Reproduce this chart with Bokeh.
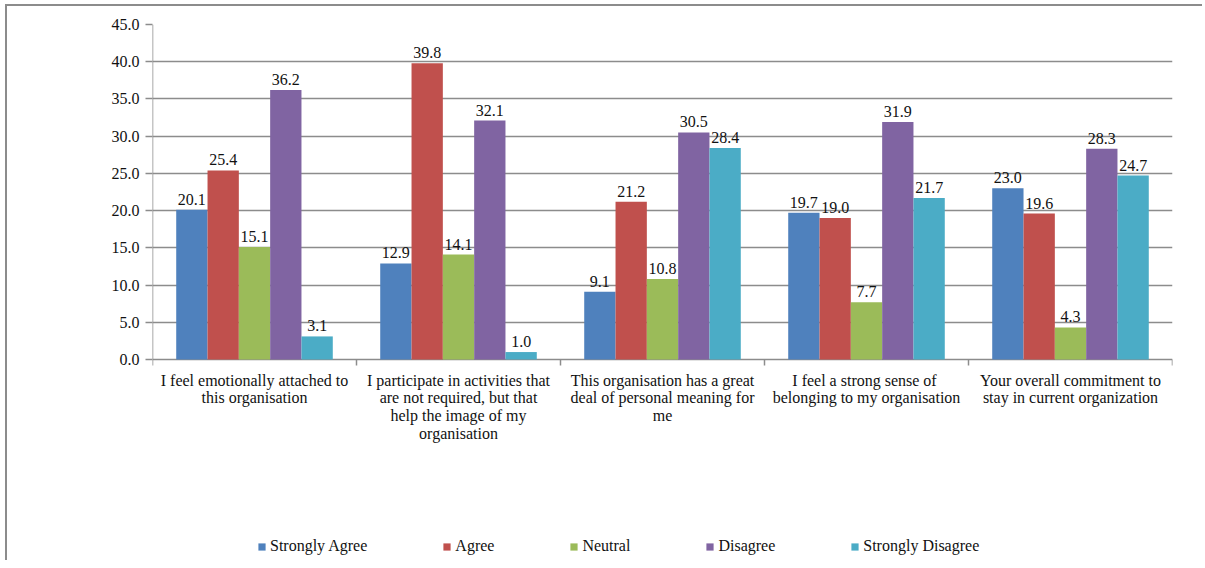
import math
from bokeh.plotting import figure
from bokeh.models import (ColumnDataSource, FixedTicker, Range1d, Legend, LegendItem,
                          NumeralTickFormatter)
from bokeh.transform import dodge
from bokeh.core.properties import value
from bokeh.embed import file_html
from bokeh.resources import INLINE

categories = [
    "I feel emotionally attached to\nthis organisation",
    "I participate in activities that\nare not required, but that\nhelp the image of my\norganisation",
    "This organisation has a great\ndeal of personal meaning for\nme",
    "I  feel a strong sense of\nbelonging to my organisation",
    "Your overall commitment to\nstay in current organization",
]
series = ["Strongly Agree", "Agree", "Neutral", "Disagree", "Strongly Disagree"]
strongly_agree = [20.1, 12.9, 9.1, 19.7, 23.0]
agree = [25.4, 39.8, 21.2, 19.0, 19.6]
neutral = [15.1, 14.1, 10.8, 7.7, 4.3]
disagree = [36.2, 32.1, 30.5, 31.9, 28.3]
strongly_disagree = [3.1, 1.0, 28.4, 21.7, 24.7]
colors = ["#4F81BD", "#C0504D", "#9BBB59", "#8064A2", "#4BACC6"]
y_ticks = [0, 5, 10, 15, 20, 25, 30, 35, 40, 45]

values = [strongly_agree, agree, neutral, disagree, strongly_disagree]
FONT = "Liberation Serif"
FS = "16px"
GRAY = "#8c8c8c"

# plot area: 0..45 spans 335 px; the frame extends 201 px below zero to host
# the category labels and the legend (so nothing gets clipped)
PLOT_H = 335
EXTRA_H = 201
ymax = y_ticks[-1]
ymin = -EXTRA_H * ymax / PLOT_H

ncat = len(categories)
pos = [i + 0.5 for i in range(ncat)]
data = {"x": pos, "cat": categories, "zero": [0] * ncat}
for name, vals in zip(series, values):
    data[name] = vals
    data[name + "_lbl"] = ["%.1f" % v for v in vals]
src = ColumnDataSource(data)

p = figure(frame_width=1020, frame_height=PLOT_H + EXTRA_H, output_backend="svg",
           toolbar_location=None, x_axis_type=None,
           x_range=Range1d(0, ncat), y_range=Range1d(ymin, ymax),
           min_border_left=145, min_border_right=30, min_border_top=18,
           min_border_bottom=0)
p.styles = {"border-left": "2px solid #8c8c8c", "border-top": "2px solid #8c8c8c",
            "margin-left": "5px", "margin-top": "4px"}
p.outline_line_color = None
p.background_fill_color = "white"
p.border_fill_color = "white"

# gridlines (the one at 0 doubles as the category axis line)
p.ygrid.ticker = FixedTicker(ticks=y_ticks)
p.ygrid.grid_line_color = GRAY
p.ygrid.grid_line_width = 1.5

# value axis
p.yaxis.ticker = FixedTicker(ticks=y_ticks)
p.yaxis.formatter = NumeralTickFormatter(format="0.0")
p.yaxis.axis_line_color = None
p.yaxis.major_tick_line_color = GRAY
p.yaxis.major_tick_line_width = 1.5
p.yaxis.major_tick_out = 7
p.yaxis.major_tick_in = 0
p.yaxis.minor_tick_line_color = None
p.yaxis.major_label_text_font = FONT
p.yaxis.major_label_text_font_size = FS
p.yaxis.major_label_text_color = "#111111"
p.yaxis.major_label_standoff = 6
p.segment(x0=[0], y0=[y_ticks[0]], x1=[0], y1=[y_ticks[-1]],
          line_color=GRAY, line_width=1.5)

# category boundary tick marks
p.ray(x=list(range(ncat + 1)), y=[0] * (ncat + 1), length=6, length_units="screen",
      angle=-math.pi / 2, line_color=GRAY, line_width=1.5)

# bars + value labels
bw = 0.1535
items = []
for k, (name, col) in enumerate(zip(series, colors)):
    off = (k - 2) * bw
    r = p.vbar(x=dodge("x", off, range=p.x_range), top=name, bottom=0, width=bw,
               source=src, fill_color=col, line_color=None)
    p.text(x=dodge("x", off, range=p.x_range), y=name, text=name + "_lbl", source=src,
           text_align="center", text_baseline="bottom", y_offset=-5,
           text_font=value(FONT), text_font_size=FS, text_color="#111111")
    items.append(LegendItem(label=name, renderers=[r]))

# category labels under the axis
p.text(x="x", y="zero", text="cat", source=src, text_align="center",
       text_baseline="top", y_offset=12, text_line_height=1.05,
       text_font=value(FONT), text_font_size=FS, text_color="#111111")

legend = Legend(items=items, orientation="horizontal", location=(105, 5),
                glyph_width=9, glyph_height=9, label_standoff=4, spacing=75,
                border_line_color=None, background_fill_alpha=0, padding=5, margin=0,
                label_text_font=FONT, label_text_font_size=FS,
                label_text_color="#111111")
p.add_layout(legend, "center")

open("out.html", "w").write(file_html(p, INLINE))
